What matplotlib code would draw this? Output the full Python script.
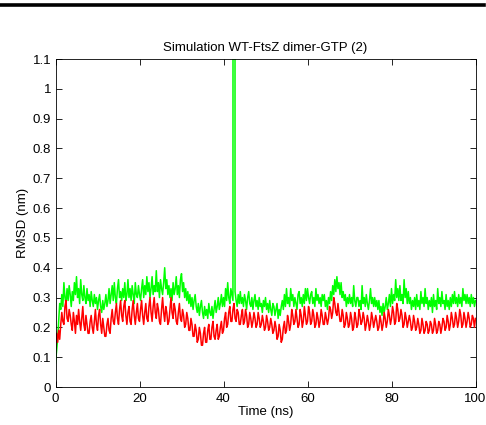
import numpy as np
import matplotlib
matplotlib.use("Agg")
import matplotlib.pyplot as plt
from matplotlib.lines import Line2D
from matplotlib.ticker import FuncFormatter

plt.rcParams['font.family'] = ['Liberation Sans', 'DejaVu Sans']

# Time axis (ns), sampled every 0.25 ns
time_ns = np.arange(0, 100.001, 0.25)

# RMSD green series (nm), one row = 2 ns
rmsd_green = [
    0.08, 0.12, 0.16, 0.22, 0.28, 0.26, 0.31, 0.27,
    0.35, 0.30, 0.28, 0.33, 0.29, 0.34, 0.31, 0.27,
    0.32, 0.29, 0.35, 0.31, 0.37, 0.30, 0.33, 0.28,
    0.36, 0.31, 0.29, 0.34, 0.30, 0.28, 0.33, 0.29,
    0.31, 0.27, 0.32, 0.29, 0.27, 0.31, 0.28, 0.30,
    0.26, 0.29, 0.31, 0.27, 0.25, 0.29, 0.26, 0.28,
    0.31, 0.27, 0.29, 0.33, 0.28, 0.31, 0.34, 0.29,
    0.35, 0.30, 0.28, 0.33, 0.36, 0.30, 0.32, 0.29,
    0.33, 0.30, 0.35, 0.29, 0.31, 0.36, 0.30, 0.33,
    0.29, 0.34, 0.31, 0.28, 0.35, 0.31, 0.30, 0.34,
    0.31, 0.29, 0.33, 0.36, 0.30, 0.34, 0.31, 0.37,
    0.32, 0.35, 0.30, 0.33, 0.37, 0.31, 0.34, 0.32,
    0.39, 0.32, 0.35, 0.30, 0.36, 0.33, 0.31, 0.35,
    0.40, 0.33, 0.36, 0.31, 0.34, 0.30, 0.33, 0.29,
    0.35, 0.31, 0.33, 0.37, 0.31, 0.34, 0.30, 0.36,
    0.38, 0.32, 0.35, 0.30, 0.33, 0.29, 0.32, 0.28,
    0.31, 0.27, 0.30, 0.26, 0.29, 0.31, 0.27, 0.25,
    0.28, 0.24, 0.27, 0.29, 0.25, 0.23, 0.27, 0.24,
    0.26, 0.23, 0.28, 0.25, 0.24, 0.27, 0.23, 0.26,
    0.29, 0.25, 0.27, 0.30, 0.26, 0.28, 0.31, 0.27,
    0.30, 0.27, 0.33, 0.29, 0.35, 0.30, 0.28, 0.33,
    0.31, 0.29, 20.0, 0.32, 0.29, 0.27, 0.31, 0.28,
    0.32, 0.28, 0.30, 0.27, 0.31, 0.29, 0.26, 0.30,
    0.32, 0.28, 0.27, 0.30, 0.26, 0.29, 0.31, 0.27,
    0.29, 0.26, 0.30, 0.27, 0.28, 0.25, 0.29, 0.27,
    0.30, 0.26, 0.28, 0.25, 0.29, 0.26, 0.24, 0.28,
    0.27, 0.24, 0.26, 0.28, 0.23, 0.26, 0.24, 0.27,
    0.29, 0.26, 0.31, 0.27, 0.33, 0.28, 0.30, 0.27,
    0.33, 0.29, 0.31, 0.27, 0.30, 0.28, 0.26, 0.31,
    0.32, 0.28, 0.30, 0.27, 0.31, 0.28, 0.33, 0.29,
    0.33, 0.30, 0.28, 0.31, 0.32, 0.28, 0.30, 0.27,
    0.33, 0.29, 0.31, 0.28, 0.30, 0.27, 0.31, 0.29,
    0.31, 0.27, 0.29, 0.26, 0.30, 0.28, 0.32, 0.29,
    0.34, 0.31, 0.36, 0.32, 0.37, 0.33, 0.35, 0.31,
    0.35, 0.30, 0.32, 0.29, 0.31, 0.27, 0.30, 0.28,
    0.31, 0.28, 0.30, 0.27, 0.34, 0.29, 0.27, 0.30,
    0.30, 0.27, 0.29, 0.26, 0.34, 0.28, 0.30, 0.27,
    0.31, 0.28, 0.26, 0.29, 0.33, 0.28, 0.30, 0.27,
    0.30, 0.27, 0.29, 0.26, 0.29, 0.25, 0.27, 0.24,
    0.28, 0.25, 0.27, 0.30, 0.26, 0.28, 0.31, 0.27,
    0.33, 0.28, 0.31, 0.29, 0.36, 0.30, 0.33, 0.29,
    0.34, 0.29, 0.31, 0.28, 0.36, 0.30, 0.33, 0.28,
    0.32, 0.28, 0.30, 0.26, 0.29, 0.27, 0.30, 0.26,
    0.31, 0.27, 0.29, 0.26, 0.32, 0.28, 0.30, 0.27,
    0.33, 0.28, 0.30, 0.26, 0.29, 0.27, 0.30, 0.25,
    0.31, 0.27, 0.29, 0.26, 0.33, 0.28, 0.30, 0.27,
    0.32, 0.28, 0.29, 0.26, 0.31, 0.27, 0.29, 0.26,
    0.30, 0.27, 0.31, 0.28, 0.32, 0.28, 0.30, 0.27,
    0.31, 0.28, 0.30, 0.27, 0.33, 0.29, 0.31, 0.28,
    0.31, 0.28, 0.30, 0.27, 0.31, 0.28, 0.30, 0.27,
    0.29,
]

# RMSD red series (nm), one row = 2 ns
rmsd_red = [
    0.13, 0.18, 0.15, 0.19, 0.16, 0.21, 0.25, 0.22,
    0.21, 0.27, 0.29, 0.23, 0.22, 0.26, 0.24, 0.21,
    0.19, 0.25, 0.22, 0.18, 0.24, 0.21, 0.26, 0.22,
    0.19, 0.23, 0.27, 0.21, 0.19, 0.24, 0.21, 0.18,
    0.18, 0.22, 0.24, 0.20, 0.18, 0.22, 0.26, 0.21,
    0.19, 0.24, 0.26, 0.21, 0.18, 0.23, 0.20, 0.17,
    0.17, 0.21, 0.23, 0.19, 0.18, 0.23, 0.26, 0.22,
    0.21, 0.25, 0.28, 0.23, 0.21, 0.26, 0.29, 0.24,
    0.22, 0.27, 0.29, 0.24, 0.21, 0.25, 0.27, 0.22,
    0.21, 0.26, 0.29, 0.24, 0.21, 0.25, 0.28, 0.23,
    0.22, 0.26, 0.29, 0.24, 0.21, 0.25, 0.28, 0.23,
    0.22, 0.27, 0.30, 0.25, 0.22, 0.27, 0.30, 0.25,
    0.23, 0.28, 0.26, 0.22, 0.21, 0.26, 0.30, 0.25,
    0.22, 0.27, 0.25, 0.21, 0.22, 0.26, 0.30, 0.25,
    0.23, 0.28, 0.26, 0.22, 0.21, 0.25, 0.28, 0.23,
    0.22, 0.26, 0.24, 0.20, 0.21, 0.25, 0.23, 0.19,
    0.19, 0.23, 0.21, 0.17, 0.17, 0.21, 0.19, 0.15,
    0.16, 0.20, 0.18, 0.14, 0.14, 0.18, 0.20, 0.15,
    0.15, 0.19, 0.21, 0.16, 0.16, 0.20, 0.22, 0.17,
    0.16, 0.19, 0.21, 0.16, 0.17, 0.20, 0.22, 0.18,
    0.19, 0.23, 0.25, 0.20, 0.21, 0.25, 0.27, 0.22,
    0.22, 0.26, 0.28, 0.23, 0.22, 0.26, 0.25, 0.21,
    0.21, 0.24, 0.26, 0.21, 0.22, 0.26, 0.24, 0.20,
    0.21, 0.25, 0.23, 0.20, 0.22, 0.25, 0.23, 0.20,
    0.21, 0.25, 0.23, 0.20, 0.21, 0.24, 0.22, 0.19,
    0.20, 0.24, 0.22, 0.19, 0.20, 0.23, 0.21, 0.18,
    0.19, 0.22, 0.20, 0.16, 0.17, 0.21, 0.19, 0.15,
    0.16, 0.20, 0.22, 0.18, 0.19, 0.24, 0.22, 0.19,
    0.21, 0.26, 0.24, 0.21, 0.22, 0.26, 0.23, 0.20,
    0.21, 0.26, 0.24, 0.20, 0.22, 0.27, 0.24, 0.21,
    0.22, 0.27, 0.25, 0.21, 0.22, 0.26, 0.24, 0.20,
    0.21, 0.25, 0.23, 0.20, 0.22, 0.26, 0.24, 0.21,
    0.21, 0.25, 0.23, 0.21, 0.23, 0.27, 0.26, 0.23,
    0.25, 0.30, 0.28, 0.25, 0.24, 0.28, 0.25, 0.22,
    0.22, 0.26, 0.24, 0.20, 0.21, 0.25, 0.23, 0.20,
    0.21, 0.25, 0.23, 0.19, 0.20, 0.25, 0.23, 0.20,
    0.21, 0.26, 0.24, 0.21, 0.22, 0.25, 0.23, 0.19,
    0.21, 0.24, 0.22, 0.19, 0.21, 0.25, 0.23, 0.20,
    0.22, 0.24, 0.22, 0.19, 0.20, 0.24, 0.22, 0.19,
    0.21, 0.25, 0.23, 0.20, 0.22, 0.26, 0.24, 0.21,
    0.23, 0.27, 0.25, 0.21, 0.22, 0.28, 0.26, 0.22,
    0.23, 0.26, 0.24, 0.20, 0.21, 0.25, 0.23, 0.20,
    0.22, 0.24, 0.22, 0.19, 0.20, 0.24, 0.22, 0.19,
    0.20, 0.23, 0.21, 0.18, 0.19, 0.23, 0.21, 0.18,
    0.19, 0.22, 0.21, 0.18, 0.19, 0.22, 0.21, 0.18,
    0.19, 0.23, 0.21, 0.18, 0.19, 0.22, 0.21, 0.18,
    0.20, 0.23, 0.22, 0.19, 0.20, 0.24, 0.22, 0.19,
    0.21, 0.25, 0.23, 0.20, 0.21, 0.25, 0.23, 0.20,
    0.22, 0.26, 0.24, 0.20, 0.21, 0.25, 0.23, 0.20,
    0.22, 0.25, 0.23, 0.20, 0.21, 0.24, 0.23, 0.20,
    0.23,
]

title = "Simulation WT-FtsZ dimer-GTP (2)"
x_label = "Time (ns)"
y_label = "RMSD (nm)"
x_ticks = [0, 20, 40, 60, 80, 100]
y_ticks = [0, 0.1, 0.2, 0.3, 0.4, 0.5, 0.6, 0.7, 0.8, 0.9, 1.0, 1.1]

fig = plt.figure(figsize=(4.86, 4.25), dpi=100)
ax = fig.add_axes([55.5 / 486, 1 - 387 / 425, 420 / 486, 328 / 425])

ax.plot(time_ns, rmsd_green, color=(0, 1, 0), lw=1.1)
ax.plot(time_ns, rmsd_red, color=(1, 0, 0), lw=1.1)

ax.set_xlim(0, 100)
ax.set_ylim(0, 1.1)
ax.set_xticks(x_ticks)
ax.set_yticks(y_ticks)
ax.yaxis.set_major_formatter(FuncFormatter(lambda v, p: f"{v:g}"))
ax.tick_params(direction='in', length=4, width=0.6, labelsize=9.5,
               top=True, right=True, pad=3)
ax.tick_params(axis='x', pad=4)
for s in ax.spines.values():
    s.set_linewidth(0.6)

ax.set_title(title, fontsize=9.5, pad=6)
ax.set_xlabel(x_label, fontsize=9.5, labelpad=1)
ax.set_ylabel(y_label, fontsize=9.5, labelpad=3)

# top black rule across the figure
fig.add_artist(Line2D([0, 484 / 486], [1 - 5 / 425, 1 - 5 / 425],
                      color='black', lw=2.6, transform=fig.transFigure))

fig.savefig("out.png", dpi=100)
